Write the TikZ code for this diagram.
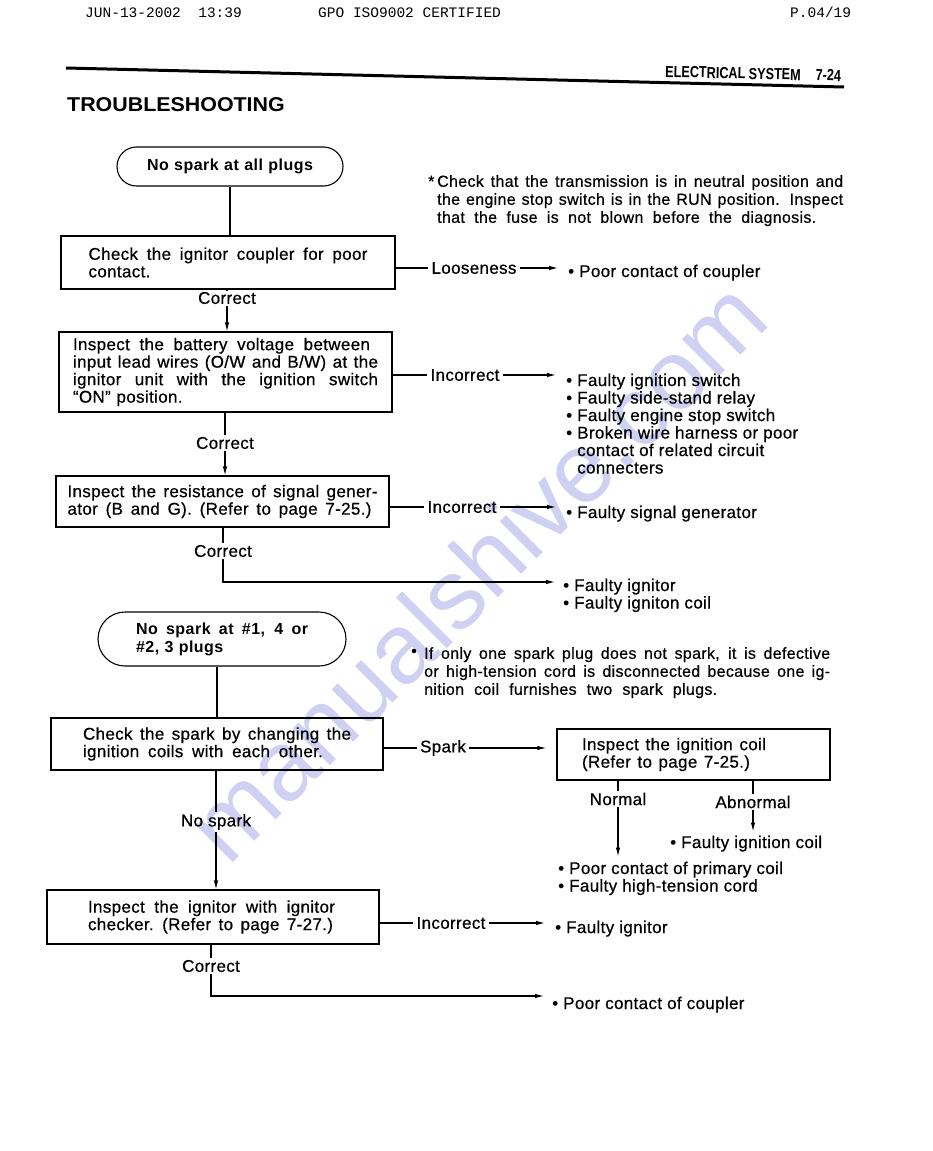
\documentclass[tikz,border=0pt]{standalone}
\usepackage{fontspec}
\usepackage{graphicx}
\setmainfont{Liberation Sans}
\newfontfamily\bodyfont[LetterSpace=2, FakeBold=0.6]{Liberation Sans}
\newfontfamily\termfont[LetterSpace=3]{Liberation Sans}
\newfontfamily\notefont[LetterSpace=2, FakeBold=0.6]{Liberation Sans}
\newfontfamily\monofont{Liberation Mono}
\usetikzlibrary{arrows.meta}
\newcommand\LW[2]{\makebox[#1pt][s]{\spaceskip=\fontdimen2\font plus 1fil\relax #2}}
\definecolor{wmcol}{RGB}{208,208,242}
\tikzset{
  every node/.style={inner sep=0pt},
  txt/.style={font=\bodyfont\fontsize{17}{17.5}\selectfont},
  box/.style={txt, draw, line width=1.1pt, align=left},
  term/.style={draw, line width=1.1pt, align=left, font=\termfont\bfseries\fontsize{16}{18}\selectfont},
  lab/.style={txt, inner xsep=3pt, inner ysep=1.5pt},
  lst/.style={txt, align=left, anchor=north west},
  note/.style={font=\notefont\fontsize{16}{18}\selectfont, align=left, anchor=north west},
  conn/.style={line width=1.1pt},
  arr/.style={conn, -{Latex[length=9pt,width=4.5pt]}},
  hdr/.style={font=\monofont\fontsize{14.5}{16}\selectfont, anchor=base west}
}
\begin{document}
\begin{tikzpicture}[x=1pt,y=-1pt]
\useasboundingbox (0,0) rectangle (933,1151);
\fill[white] (0,0) rectangle (933,1151);
% watermark
\node[rotate=45, text=wmcol, font=\fontsize{99}{99}\selectfont] (wm) at (476,570) {manualshive.com};
% header
\node[hdr] (hd1) at (85,17.5) {JUN-13-2002\ \ 13:39};
\node[hdr] (hd2) at (318,17.5) {GPO ISO9002 CERTIFIED};
\node[hdr] (hd3) at (790,17.5) {P.04/19};
\coordinate (ruleL) at (66,68);
\coordinate (ruleR) at (844,87);
\draw[line width=3pt] (ruleL) -- (ruleR);
\node[anchor=base west, rotate=-1.4, font=\bfseries\fontsize{16}{18}\selectfont] (sec) at (665,77)
  {\scalebox{0.79}[1]{ELECTRICAL SYSTEM\hspace{19pt}7-24}};
\node[anchor=base west, font=\bfseries\fontsize{20}{22}\selectfont] (title) at (67,111)
  {\scalebox{1.07}[1]{TROUBLESHOOTING}};
% ---------- first chart
\node[term, minimum width=226pt, minimum height=39pt, rounded corners=19.5pt] (t1) at (230,166.5)
  {\LW{166}{No spark at all plugs}};
\node[box, minimum width=334pt, minimum height=53pt, inner xsep=27.5pt, text width=279pt] (b2) at (228,262.5)
  {\LW{279}{Check the ignitor coupler for poor}\\contact.};
\node[box, minimum width=333pt, minimum height=80pt, inner xsep=14pt, text width=305pt] (b3) at (225.5,372)
  {\LW{297}{Inspect the battery voltage between}\\
   \LW{305}{input lead wires (O/W and B/W) at the}\\
   \LW{305}{ignitor unit with the ignition switch}\\
   “ON” position.};
\node[box, minimum width=333pt, minimum height=51pt, inner xsep=11.5pt, text width=310pt] (b4) at (222.5,501.5)
  {\LW{310}{Inspect the resistance of signal gener-}\\
   \LW{304}{ator (B and G). (Refer to page 7-25.)}};
% notes
\node[note] (n1) at (428,175)
  {\makebox[9pt][l]{*}\LW{406}{Check that the transmission is in neutral position and}\\
   \hspace*{9pt}\LW{406}{the engine stop switch is in the RUN position. Inspect}\\
   \hspace*{9pt}\LW{379}{that the fuse is not blown before the diagnosis.}};
% result lists
\node[lst] (r1) at (568,264.5) {• Poor contact of coupler};
\node[lst] (r2) at (566,373.5) {• Faulty ignition switch\\
   • Faulty side-stand relay\\
   • Faulty engine stop switch\\
   • Broken wire harness or poor\\
   \hphantom{• }contact of related circuit\\
   \hphantom{• }connecters};
\node[lst] (r3) at (566,505.5) {• Faulty signal generator};
\node[lst] (r4) at (563,578.5) {• Faulty ignitor\\• Faulty igniton coil};
% labels
\node[lab] (c1) at (227,298) {Correct};
\node[lab] (c2) at (225,443) {Correct};
\node[lab] (c3) at (223,551) {Correct};
\node[lab] (lo) at (474,268) {Looseness};
\node[lab] (i1) at (465,375) {Incorrect};
\node[lab] (i2) at (462,507) {Incorrect};
% connectors
\draw[conn] (t1.south) -- (t1.south |- b2.north);
\draw[conn] (b2.south -| c1) -- (c1.north);
\draw[arr] (c1.south) -- (c1.south |- b3.north);
\draw[conn] (b3.south -| c2) -- (c2.north);
\draw[arr] (c2.south) -- (c2.south |- b4.north);
\draw[conn] (b4.south -| c3) -- (c3.north);
\draw[arr, shorten >=8pt] (c3.south) |- (r4.north west |- 0,582);
\draw[conn] (b2.east |- lo) -- (lo.west);
\draw[arr, shorten >=10pt] (lo.east) -- (lo.east -| r1.west);
\draw[conn] (b3.east |- i1) -- (i1.west);
\draw[arr, shorten >=10pt] (i1.east) -- (i1.east -| r2.west);
\draw[conn] (b4.east |- i2) -- (i2.west);
\draw[arr, shorten >=10pt] (i2.east) -- (i2.east -| r3.west);
% ---------- second chart
\node[term, minimum width=248pt, minimum height=54pt, rounded corners=27pt, text width=172pt] (t2) at (222,639)
  {\LW{172}{No spark at \#1, 4 or}\\\#2, 3 plugs};
\node[note] (n2) at (411,647)
  {\makebox[13pt][l]{\raisebox{2.5pt}{•}}\LW{406}{If only one spark plug does not spark, it is defective}\\
   \hspace*{13pt}\LW{406}{or high-tension cord is disconnected because one ig-}\\
   \hspace*{13pt}\LW{293}{nition coil furnishes two spark plugs.}};
\node[box, minimum width=332pt, minimum height=52pt, inner xsep=32pt, text width=268pt] (b5) at (217,744)
  {\LW{268}{Check the spark by changing the}\\
   \LW{240}{ignition coils with each other.}};
\node[box, minimum width=273pt, minimum height=51pt, inner xsep=25pt, text width=223pt] (b6) at (693.5,754.5)
  {\LW{184}{Inspect the ignition coil}\\
   \LW{168}{(Refer to page 7-25.)}};
\node[box, minimum width=332pt, minimum height=54pt, inner xsep=41pt, text width=250pt] (b7) at (213,917)
  {\LW{247}{Inspect the ignitor with ignitor}\\
   \LW{245}{checker. (Refer to page 7-27.)}};
\node[lst] (r5) at (670,835.5) {• Faulty ignition coil};
\node[lst] (r6) at (558,861.5) {• Poor contact of primary coil\\• Faulty high-tension cord};
\node[lst] (r7) at (555,920.5) {• Faulty ignitor};
\node[lst] (r8) at (552,996.5) {• Poor contact of coupler};
\node[lab] (sp) at (443,748) {Spark};
\node[lab] (ns) at (216,822) {No spark};
\node[lab] (nm) at (618,799) {Normal};
\node[lab] (ab) at (753,802) {Abnormal};
\node[lab] (i3) at (451,923) {Incorrect};
\node[lab] (c4) at (211,966) {Correct};
\draw[conn] (t2.south -| b5.north) -- (b5.north);
\draw[conn] (b5.east |- sp) -- (sp.west);
\draw[arr, shorten >=10pt] (sp.east) -- (sp.east -| b6.west);
\draw[conn] (b5.south -| ns) -- (ns.north);
\draw[arr] (ns.south) -- (ns.south |- b7.north);
\draw[conn] (b6.south -| nm) -- (nm.north);
\draw[arr, shorten >=5pt] (nm.south) -- (nm.south |- r6.north);
\draw[conn] (b6.south -| ab) -- (ab.north);
\draw[arr, shorten >=4pt] (ab.south) -- (ab.south |- r5.north);
\draw[conn] (b7.east |- i3) -- (i3.west);
\draw[arr, shorten >=10pt] (i3.east) -- (i3.east -| r7.west);
\draw[conn] (b7.south -| c4) -- (c4.north);
\draw[arr, shorten >=8pt] (c4.south) |- (r8.north west |- 0,996);
\end{tikzpicture}
\end{document}
